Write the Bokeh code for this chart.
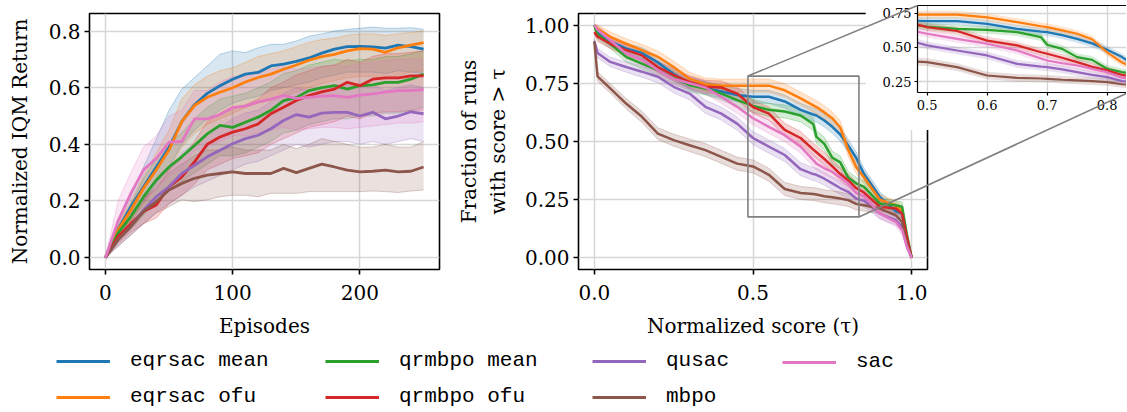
import numpy as np
from bokeh.plotting import figure
from bokeh.models import (Range1d, GridBox, Legend, LegendItem, LinearAxis,
                          FixedTicker, PrintfTickFormatter)
from bokeh.embed import file_html
from bokeh.resources import INLINE

# ---------------------------------------------------------------- data
names = ["eqrsac mean", "eqrsac ofu", "qrmbpo mean", "qrmbpo ofu", "qusac", "mbpo", "sac"]
colors = ["#1f77b4", "#ff7f0e", "#2ca02c", "#d62728", "#9467bd", "#8c564b", "#e377c2"]

episodes = [0, 10, 20, 30, 40, 50, 60, 70, 80, 90, 100, 110, 120, 130,
            140, 150, 160, 170, 180, 190, 200, 210, 220, 230, 240, 250]

iqm_eqrsac_mean = [0, 0.10, 0.18, 0.25, 0.32, 0.39, 0.48, 0.54, 0.58, 0.607, 0.63, 0.648, 0.654, 0.677,
                   0.683, 0.693, 0.705, 0.722, 0.736, 0.745, 0.746, 0.744, 0.74, 0.75, 0.745, 0.736]
iqm_eqrsac_ofu = [0, 0.098, 0.168, 0.245, 0.31, 0.38, 0.48, 0.537, 0.566, 0.584, 0.60, 0.62, 0.636, 0.648,
                  0.665, 0.68, 0.697, 0.71, 0.718, 0.73, 0.738, 0.736, 0.725, 0.741, 0.75, 0.759]
iqm_qrmbpo_mean = [0, 0.087, 0.145, 0.215, 0.274, 0.32, 0.356, 0.396, 0.437, 0.467, 0.46, 0.478, 0.496, 0.52,
                   0.554, 0.565, 0.59, 0.60, 0.607, 0.595, 0.607, 0.61, 0.619, 0.619, 0.63, 0.648]
iqm_qrmbpo_ofu = [0, 0.075, 0.12, 0.163, 0.186, 0.25, 0.285, 0.338, 0.40, 0.426, 0.443, 0.455, 0.472, 0.508,
                  0.531, 0.555, 0.572, 0.585, 0.595, 0.619, 0.607, 0.63, 0.635, 0.635, 0.642, 0.642]
iqm_qusac = [0, 0.063, 0.11, 0.168, 0.215, 0.25, 0.297, 0.326, 0.356, 0.379, 0.402, 0.42, 0.432, 0.455,
             0.484, 0.505, 0.496, 0.51, 0.513, 0.513, 0.50, 0.513, 0.49, 0.50, 0.515, 0.508]
iqm_mbpo = [0, 0.063, 0.11, 0.163, 0.198, 0.239, 0.262, 0.28, 0.291, 0.297, 0.303, 0.297, 0.297, 0.297,
            0.315, 0.30, 0.315, 0.33, 0.32, 0.309, 0.303, 0.305, 0.309, 0.303, 0.305, 0.32]
iqm_sac = [0, 0.13, 0.227, 0.31, 0.35, 0.408, 0.41, 0.49, 0.49, 0.505, 0.53, 0.535, 0.55, 0.56,
           0.572, 0.562, 0.566, 0.57, 0.572, 0.566, 0.574, 0.578, 0.584, 0.59, 0.59, 0.593]

lo_eqrsac_mean = [0, 0.07, 0.14, 0.20, 0.26, 0.32, 0.40, 0.45, 0.49, 0.52, 0.545, 0.56, 0.57, 0.59,
                  0.60, 0.61, 0.62, 0.635, 0.645, 0.655, 0.655, 0.655, 0.65, 0.66, 0.655, 0.65]
hi_eqrsac_mean = [0, 0.13, 0.22, 0.32, 0.42, 0.52, 0.595, 0.636, 0.677, 0.718, 0.73, 0.724, 0.741, 0.753,
                  0.753, 0.765, 0.782, 0.79, 0.80, 0.806, 0.81, 0.814, 0.81, 0.81, 0.812, 0.806]
lo_eqrsac_ofu = [0, 0.07, 0.13, 0.19, 0.25, 0.31, 0.39, 0.44, 0.47, 0.49, 0.51, 0.53, 0.545, 0.555,
                 0.57, 0.585, 0.60, 0.615, 0.625, 0.635, 0.64, 0.64, 0.63, 0.645, 0.655, 0.66]
hi_eqrsac_ofu = [0, 0.12, 0.20, 0.29, 0.37, 0.45, 0.56, 0.61, 0.64, 0.66, 0.67, 0.69, 0.71, 0.72,
                 0.73, 0.745, 0.76, 0.77, 0.775, 0.785, 0.79, 0.79, 0.785, 0.79, 0.795, 0.80]
lo_qrmbpo_mean = [0, 0.06, 0.10, 0.15, 0.20, 0.24, 0.27, 0.30, 0.33, 0.36, 0.36, 0.37, 0.39, 0.41,
                  0.44, 0.45, 0.47, 0.48, 0.49, 0.49, 0.50, 0.50, 0.51, 0.51, 0.52, 0.53]
hi_qrmbpo_mean = [0, 0.11, 0.19, 0.28, 0.35, 0.40, 0.44, 0.49, 0.53, 0.56, 0.57, 0.58, 0.60, 0.62,
                  0.65, 0.66, 0.68, 0.69, 0.70, 0.695, 0.70, 0.70, 0.71, 0.71, 0.72, 0.73]
lo_qrmbpo_ofu = [0, 0.05, 0.09, 0.12, 0.14, 0.19, 0.22, 0.26, 0.31, 0.33, 0.35, 0.36, 0.37, 0.40,
                 0.42, 0.44, 0.46, 0.47, 0.48, 0.50, 0.49, 0.51, 0.515, 0.515, 0.52, 0.52]
hi_qrmbpo_ofu = [0, 0.10, 0.16, 0.21, 0.24, 0.31, 0.35, 0.41, 0.48, 0.51, 0.53, 0.54, 0.56, 0.60,
                 0.62, 0.645, 0.66, 0.675, 0.68, 0.70, 0.69, 0.71, 0.72, 0.72, 0.725, 0.73]
lo_qusac = [0, 0.04, 0.08, 0.12, 0.16, 0.19, 0.22, 0.25, 0.27, 0.29, 0.31, 0.33, 0.34, 0.36,
            0.38, 0.40, 0.39, 0.40, 0.41, 0.41, 0.40, 0.41, 0.40, 0.41, 0.42, 0.41]
hi_qusac = [0, 0.09, 0.15, 0.22, 0.27, 0.31, 0.37, 0.40, 0.44, 0.46, 0.49, 0.51, 0.52, 0.55,
            0.58, 0.60, 0.59, 0.60, 0.61, 0.61, 0.60, 0.61, 0.59, 0.60, 0.61, 0.60]
lo_mbpo = [0, 0.04, 0.08, 0.12, 0.157, 0.18, 0.204, 0.198, 0.204, 0.215, 0.22, 0.22, 0.215, 0.227,
           0.227, 0.227, 0.233, 0.233, 0.233, 0.233, 0.233, 0.235, 0.233, 0.23, 0.235, 0.239]
hi_mbpo = [0, 0.09, 0.15, 0.21, 0.25, 0.30, 0.33, 0.36, 0.38, 0.38, 0.39, 0.38, 0.38, 0.38,
           0.40, 0.385, 0.40, 0.42, 0.41, 0.40, 0.39, 0.39, 0.40, 0.39, 0.39, 0.41]
lo_sac = [0, 0.09, 0.15, 0.20, 0.24, 0.29, 0.31, 0.38, 0.39, 0.41, 0.43, 0.43, 0.44, 0.45,
          0.46, 0.45, 0.455, 0.46, 0.46, 0.455, 0.46, 0.465, 0.47, 0.475, 0.475, 0.48]
hi_sac = [0, 0.20, 0.30, 0.39, 0.43, 0.50, 0.52, 0.59, 0.59, 0.62, 0.64, 0.64, 0.65, 0.665,
          0.675, 0.665, 0.67, 0.675, 0.68, 0.675, 0.685, 0.69, 0.695, 0.70, 0.70, 0.70]

tau = [0, 0.01, 0.05, 0.1, 0.15, 0.2, 0.25, 0.3, 0.35, 0.4, 0.45, 0.5, 0.55, 0.6, 0.65,
       0.69, 0.7, 0.725, 0.75, 0.775, 0.8, 0.825, 0.85, 0.9, 0.95, 0.97, 0.985, 1.0]
prof_eqrsac_mean = [1.0, 0.97, 0.93, 0.90, 0.88, 0.84, 0.79, 0.75, 0.73, 0.715, 0.70, 0.692, 0.692, 0.672, 0.636,
                    0.616, 0.612, 0.59, 0.563, 0.53, 0.483, 0.43, 0.36, 0.262, 0.20, 0.19, 0.08, 0.0]
prof_eqrsac_ofu = [1.0, 0.985, 0.95, 0.92, 0.893, 0.864, 0.82, 0.77, 0.745, 0.74, 0.74, 0.74, 0.74, 0.72, 0.685,
                   0.655, 0.648, 0.625, 0.60, 0.56, 0.465, 0.39, 0.345, 0.25, 0.225, 0.20, 0.09, 0.0]
prof_qrmbpo_mean = [1.0, 0.96, 0.92, 0.864, 0.835, 0.807, 0.775, 0.742, 0.728, 0.706, 0.678, 0.653, 0.636, 0.629, 0.612,
                    0.575, 0.52, 0.49, 0.43, 0.41, 0.345, 0.32, 0.305, 0.233, 0.226, 0.22, 0.10, 0.0]
prof_qrmbpo_ofu = [0.97, 0.95, 0.92, 0.893, 0.87, 0.82, 0.785, 0.756, 0.735, 0.732, 0.706, 0.648, 0.62, 0.55, 0.515,
                   0.465, 0.454, 0.425, 0.393, 0.36, 0.333, 0.30, 0.28, 0.22, 0.212, 0.19, 0.09, 0.0]
prof_qusac = [0.93, 0.88, 0.842, 0.82, 0.80, 0.778, 0.735, 0.706, 0.649, 0.62, 0.577, 0.515, 0.478, 0.442, 0.381,
              0.36, 0.357, 0.34, 0.32, 0.30, 0.284, 0.255, 0.245, 0.19, 0.162, 0.133, 0.05, 0.0]
prof_mbpo = [0.93, 0.78, 0.728, 0.663, 0.606, 0.534, 0.506, 0.484, 0.463, 0.434, 0.405, 0.393, 0.357, 0.296, 0.279,
             0.274, 0.272, 0.265, 0.26, 0.255, 0.248, 0.232, 0.226, 0.212, 0.183, 0.155, 0.06, 0.0]
prof_sac = [1.0, 0.98, 0.935, 0.878, 0.85, 0.807, 0.77, 0.75, 0.732, 0.692, 0.649, 0.60, 0.563, 0.527, 0.478,
            0.42, 0.405, 0.385, 0.369, 0.345, 0.32, 0.28, 0.265, 0.19, 0.155, 0.12, 0.05, 0.0]
prof_ci = [0.01, 0.02, 0.02, 0.022, 0.024, 0.025, 0.026, 0.027, 0.028, 0.028, 0.028, 0.028, 0.028, 0.028, 0.028,
           0.028, 0.028, 0.028, 0.028, 0.028, 0.027, 0.026, 0.025, 0.022, 0.02, 0.02, 0.015, 0.005]

zoom_x = [0.484, 0.834]          # zoom box / inset x limits
zoom_y = [0.176, 0.781]          # zoom box drawn on the main profile plot
inset_y = [0.172, 0.806]         # inset y limits

x_ticks_left = [0, 100, 200]
y_ticks_left = [0.0, 0.2, 0.4, 0.6, 0.8]
x_ticks_right = [0.0, 0.5, 1.0]
y_ticks_right = [0.0, 0.25, 0.5, 0.75, 1.0]
x_ticks_inset = [0.5, 0.6, 0.7, 0.8]
y_ticks_inset = [0.25, 0.5, 0.75]

iqm = [iqm_eqrsac_mean, iqm_eqrsac_ofu, iqm_qrmbpo_mean, iqm_qrmbpo_ofu, iqm_qusac, iqm_mbpo, iqm_sac]
iqm_lo = [lo_eqrsac_mean, lo_eqrsac_ofu, lo_qrmbpo_mean, lo_qrmbpo_ofu, lo_qusac, lo_mbpo, lo_sac]
iqm_hi = [hi_eqrsac_mean, hi_eqrsac_ofu, hi_qrmbpo_mean, hi_qrmbpo_ofu, hi_qusac, hi_mbpo, hi_sac]
prof = [prof_eqrsac_mean, prof_eqrsac_ofu, prof_qrmbpo_mean, prof_qrmbpo_ofu, prof_qusac, prof_mbpo, prof_sac]

# ---------------------------------------------------------------- style helpers
SERIF = "DejaVu Serif"
MONO = "Liberation Mono"
GRID = "#d6d6d6"


def style_axis(ax, ticks, fmt, size, tick_out, lw):
    ax.ticker = FixedTicker(ticks=ticks)
    ax.formatter = PrintfTickFormatter(format=fmt)
    ax.major_label_text_font = SERIF
    ax.major_label_text_font_size = size
    ax.major_label_text_color = "black"
    ax.major_tick_line_color = "black"
    ax.major_tick_line_width = lw
    ax.major_tick_out = tick_out
    ax.major_tick_in = 0
    ax.minor_tick_line_color = None
    ax.axis_label_text_font = SERIF
    ax.axis_label_text_font_style = "normal"
    ax.axis_label_text_font_size = "20px"
    ax.axis_label_text_color = "black"


def main_fig(width, height, xr, yr, bl, br, bt, bb):
    p = figure(width=width, height=height, x_range=Range1d(*xr), y_range=Range1d(*yr),
               output_backend="svg", toolbar_location=None, frame_align=False,
               min_border_left=bl, min_border_right=br, min_border_top=bt, min_border_bottom=bb)
    p.outline_line_color = "black"
    p.outline_line_width = 1.6
    p.outline_line_alpha = 1.0
    p.grid.grid_line_color = GRID
    p.grid.grid_line_width = 1.5
    p.xaxis.axis_line_color = None
    p.yaxis.axis_line_color = None
    p.background_fill_color = "white"
    p.border_fill_color = None
    return p


# ---------------------------------------------------------------- page geometry (px)
COL0, COL1, COL2 = 450, 415, 261
FR_TOP, FR_H, FR_BOT_BORDER = 13, 256, 90
FIG_H = FR_TOP + FR_H + FR_BOT_BORDER          # 359
ROW0, ROW1, ROW2, ROW3 = 130, 205, FIG_H - 335, 412 - FIG_H
LEG_TOP = ROW0 + ROW1                          # legend strip starts at 335

# ---------------------------------------------------------------- left plot
left = main_fig(COL0, FIG_H, (-12.5, 262.5), (-0.042, 0.862), 89, 11, FR_TOP, FR_BOT_BORDER)
style_axis(left.xaxis[0], x_ticks_left, "%d", "20px", 5, 1.6)
style_axis(left.yaxis[0], y_ticks_left, "%.1f", "20px", 5, 1.6)
left.xaxis.axis_label = "Episodes"
left.yaxis.axis_label = "Normalized IQM Return"
left.xaxis.major_label_standoff = 10
left.yaxis.major_label_standoff = 4
left.xaxis.axis_label_standoff = 11
left.yaxis.axis_label_standoff = 14

for i in range(7):
    left.varea(x=episodes, y1=iqm_lo[i], y2=iqm_hi[i], fill_color=colors[i], fill_alpha=0.18)
    left.line(episodes, iqm_lo[i], line_color=colors[i], line_alpha=0.3, line_width=1)
    left.line(episodes, iqm_hi[i], line_color=colors[i], line_alpha=0.3, line_width=1)
for i in range(7):
    left.line(episodes, iqm[i], line_color=colors[i], line_width=2.8)

# ---------------------------------------------------------------- right plot
R_BL, R_FW, R_BR = 128, 349, 12
right = main_fig(R_BL + R_FW + R_BR, FIG_H, (-0.05, 1.05), (-0.05, 1.05), R_BL, R_BR, FR_TOP, FR_BOT_BORDER)
style_axis(right.xaxis[0], x_ticks_right, "%.1f", "20px", 5, 1.6)
style_axis(right.yaxis[0], y_ticks_right, "%.2f", "20px", 5, 1.6)
right.xaxis.axis_label = "Normalized score (τ)"
right.yaxis.axis_label = "Fraction of runs\nwith score > τ"
right.xaxis.major_label_standoff = 10
right.yaxis.major_label_standoff = 4
right.xaxis.axis_label_standoff = 11
right.yaxis.axis_label_standoff = 12

prof_lo = [list(np.clip(np.array(s) - np.array(prof_ci), 0, 1)) for s in prof]
prof_hi = [list(np.clip(np.array(s) + np.array(prof_ci), 0, 1)) for s in prof]

for i in range(7):
    right.varea(x=tau, y1=prof_lo[i], y2=prof_hi[i], fill_color=colors[i], fill_alpha=0.2)
    right.line(tau, prof_lo[i], line_color=colors[i], line_alpha=0.25, line_width=1)
    right.line(tau, prof_hi[i], line_color=colors[i], line_alpha=0.25, line_width=1)
for i in range(7):
    right.line(tau, prof[i], line_color=colors[i], line_width=2.5)
right.quad(left=zoom_x[0], right=zoom_x[1], bottom=zoom_y[0], top=zoom_y[1],
           fill_color=None, line_color="#808080", line_width=1.6)

# ---------------------------------------------------------------- inset
I_BL, I_BT, I_FH, I_H = 52, 5, 87, ROW0
I_FW = COL2 - I_BL
inset = figure(width=COL2, height=I_H, x_range=Range1d(zoom_x[0], zoom_x[0] + I_FW / 600.0),
               y_range=Range1d(*inset_y), output_backend="svg", toolbar_location=None, frame_align=False,
               min_border_left=I_BL, min_border_right=0, min_border_top=I_BT, min_border_bottom=I_H - I_FH - I_BT)
inset.outline_line_color = None
inset.border_fill_color = "white"
inset.background_fill_color = "white"
inset.grid.grid_line_color = GRID
inset.grid.grid_line_width = 1.3
style_axis(inset.xaxis[0], x_ticks_inset, "%.1f", "13px", 3, 1.2)
style_axis(inset.yaxis[0], y_ticks_inset, "%.2f", "13px", 3, 1.2)
inset.xaxis.axis_line_color = "black"
inset.yaxis.axis_line_color = "black"
inset.xaxis.axis_line_width = 1.2
inset.yaxis.axis_line_width = 1.2
inset.xaxis.major_label_standoff = 4
inset.yaxis.major_label_standoff = 3
top_axis = LinearAxis(ticker=FixedTicker(ticks=[]), major_label_text_font_size="0px",
                      major_tick_line_color=None, minor_tick_line_color=None,
                      major_tick_out=0, major_tick_in=0,
                      major_label_standoff=0, axis_line_color="black", axis_line_width=1.2)
inset.add_layout(top_axis, "above")
for i in range(7):
    inset.varea(x=tau, y1=prof_lo[i], y2=prof_hi[i], fill_color=colors[i], fill_alpha=0.2)
for i in range(7):
    inset.line(tau, prof[i], line_color=colors[i], line_width=2.2)

# ---------------------------------------------------------------- connector overlay (page pixel space)
OX0 = COL0
OV_W, OV_H = COL1 + COL2, FIG_H
overlay = figure(width=OV_W, height=OV_H, x_range=Range1d(OX0, OX0 + OV_W), y_range=Range1d(OV_H, 0),
                 output_backend="svg", toolbar_location=None, x_axis_location=None, y_axis_location=None,
                 min_border=0, frame_align=False)
overlay.outline_line_color = None
overlay.border_fill_color = None
overlay.background_fill_color = None
overlay.grid.visible = False

fl = OX0 + R_BL


def rpx(x):
    return fl + (x + 0.05) / 1.1 * R_FW


def rpy(y):
    return FR_TOP + (1.05 - y) / 1.1 * FR_H


ins_left = COL0 + COL1 + I_BL
overlay.segment(x0=[rpx(zoom_x[0]), rpx(zoom_x[1])], y0=[rpy(zoom_y[1]), rpy(zoom_y[0])],
                x1=[ins_left, ins_left + I_FW + 2], y1=[I_BT, I_BT + I_FH],
                line_color="#808080", line_width=1.6)

# ---------------------------------------------------------------- legend strip
LG_W, LG_H = COL0 + COL1 + COL2, ROW2 + ROW3
lf = figure(width=LG_W, height=LG_H, x_range=Range1d(0, 1), y_range=Range1d(0, 1),
            output_backend="svg", toolbar_location=None, x_axis_location=None, y_axis_location=None,
            min_border=0, frame_align=False)
lf.outline_line_color = None
lf.border_fill_color = None
lf.background_fill_color = None
lf.grid.visible = False
handles = [lf.line(x=[-2, -1], y=[-2, -2], line_color=c, line_width=3.2) for c in colors]
groups = [[0, 1], [2, 3], [4, 5], [6]]
gx = [56, 325, 592, 782]
ITEM_H, GAP = 22, 13
top_px = 351 - LEG_TOP   # legend top inside strip
for g, x in zip(groups, gx):
    n = len(g)
    h = n * ITEM_H + (n - 1) * GAP
    y_bottom = LG_H - (top_px + h)
    leg = Legend(items=[LegendItem(label=names[k], renderers=[handles[k]]) for k in g],
                 location=(x, y_bottom), orientation="vertical",
                 glyph_width=54, glyph_height=ITEM_H, label_height=ITEM_H, label_standoff=20,
                 spacing=GAP, padding=0, margin=0, border_line_color=None, background_fill_alpha=0,
                 label_text_font=MONO, label_text_font_size="21px", label_text_color="black")
    lf.add_layout(leg, "center")

# ---------------------------------------------------------------- layout
grid = GridBox(children=[
    (left, 0, 0, 3, 1),
    (right, 0, 1, 3, 2),
    (inset, 0, 2, 1, 1),
    (overlay, 0, 1, 3, 2),
    (lf, 2, 0, 2, 3),
], rows=[f"{ROW0}px", f"{ROW1}px", f"{ROW2}px", f"{ROW3}px"],
   cols=[f"{COL0}px", f"{COL1}px", f"{COL2}px"])

open("out.html", "w").write(file_html(grid, INLINE))
